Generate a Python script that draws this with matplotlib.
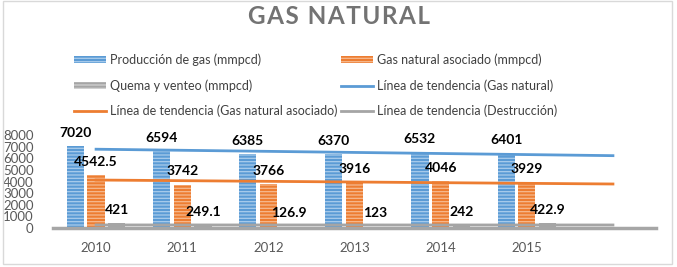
import numpy as np
import matplotlib
matplotlib.use('Agg')
import matplotlib.pyplot as plt
from matplotlib.patches import Rectangle

plt.rcParams['font.family'] = ['Lato', 'DejaVu Sans']
plt.rcParams['hatch.linewidth'] = 0.9

# data
years = ['2010', '2011', '2012', '2013', '2014', '2015']
produccion = [7020, 6594, 6385, 6370, 6532, 6401]
asociado = [4542.5, 3742, 3766, 3916, 4046, 3929]
quema = [421, 249.1, 126.9, 123, 242, 422.9]
prod_labels = ['7020', '6594', '6385', '6370', '6532', '6401']
asoc_labels = ['4542.5', '3742', '3766', '3916', '4046', '3929']
quema_labels = ['421', '249.1', '126.9', '123', '242', '422.9']

# trend lines (start / end values)
trend_x = [0, 6]
trend_gas = [6785, 6230]
trend_asoc = [4133, 3790]
trend_dest = [265, 262]

blue = '#5B9BD5'
orange = '#ED7D31'
gray = '#A5A5A5'

fig = plt.figure(figsize=(6.77, 2.67), dpi=100)
ax = fig.add_axes([0.0783, 0.146, 0.8907, 0.348])

x = np.arange(len(years))
w = 0.2
off = 0.24
b1 = ax.bar(x - off, produccion, w, color=blue, edgecolor='#A9CCEB', linewidth=0, hatch='-----', zorder=2)
b2 = ax.bar(x, asociado, w, color=orange, edgecolor='#F6B98F', linewidth=0, hatch='-----', zorder=2)
b3 = ax.bar(x + off, quema, w, color=gray, edgecolor='#D3D3D3', linewidth=0, hatch='-----', zorder=2)

l1, = ax.plot(trend_x, trend_gas, color=blue, lw=2, zorder=3)
l2, = ax.plot(trend_x, trend_asoc, color=orange, lw=2, zorder=3)
l3, = ax.plot(trend_x, trend_dest, color=gray, lw=2, zorder=3)

for xs, vals, labs in [(x - off, produccion, prod_labels),
                       (x, asociado, asoc_labels),
                       (x + off, quema, quema_labels)]:
    for xi, v, t in zip(xs, vals, labs):
        ax.annotate(t, (xi, v), xytext=(0, 9.5), textcoords='offset points',
                    ha='center', va='center', fontsize=10, fontweight='bold',
                    color='black', zorder=4)

ax.set_xlim(-0.5, 6.5)
ax.set_ylim(0, 8000)
ax.set_yticks(range(0, 8001, 1000))
ax.set_xticks(x)
ax.set_xticklabels(years)
ax.tick_params(axis='both', length=0, colors='#595959')
ax.tick_params(axis='y', labelsize=9.5, pad=14)
ax.tick_params(axis='x', labelsize=9.5, pad=10)
for s in ['top', 'right', 'left']:
    ax.spines[s].set_visible(False)
ax.spines['bottom'].set_color('#A6A6A6')
ax.spines['bottom'].set_linewidth(2.5)

# legend, filled column by column
handles = [b1, b3, l2, b2, l1, l3]
labels = ['Producción de gas (mmpcd)', 'Quema y venteo (mmpcd)',
          'Línea de tendencia (Gas natural asociado)',
          'Gas natural asociado (mmpcd)', 'Línea de tendencia (Gas natural)',
          'Línea de tendencia (Destrucción)']
fig.legend(handles, labels, ncol=2, loc='upper left', bbox_to_anchor=(0.109, 0.8),
           frameon=False, fontsize=9, labelcolor='#404040', handlelength=2.6,
           handleheight=0.45, handletextpad=0.3, columnspacing=0.25,
           labelspacing=1.05, borderpad=0, borderaxespad=0)

fig.text(0.5, 0.94, '\u200a'.join('GAS NATURAL'), ha='center', va='center',
         fontsize=17.5, fontweight='bold', color='#737373')

fig.add_artist(Rectangle((0.004, 0.012), 0.988, 0.984, transform=fig.transFigure,
                         fill=False, edgecolor='#D9D9D9', lw=1))

fig.savefig('out.png', dpi=100)
